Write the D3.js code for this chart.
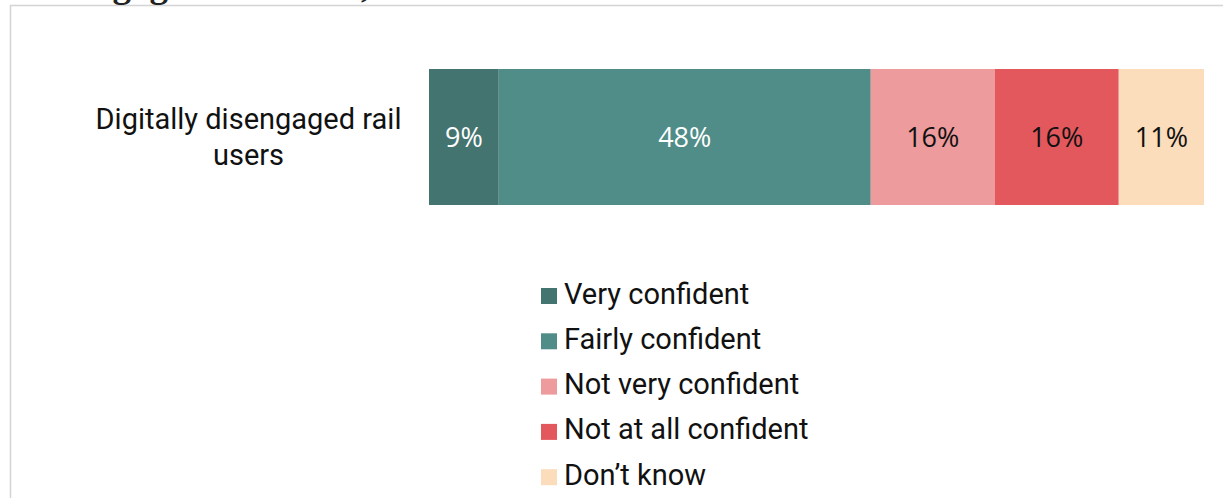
<!DOCTYPE html>
<html>
<head>
<meta charset="utf-8">
<script src="https://cdn.jsdelivr.net/npm/d3@7"></script>
<style>
  html, body { margin: 0; padding: 0; background: #fff; }
  svg { display: block; }
</style>
</head>
<body>
<svg id="chart" width="1223" height="498"></svg>
<script>
const categories = ["Digitally disengaged rail users"];
const categoryLines = [["Digitally disengaged rail", "users"]];
const seriesNames = ["Very confident", "Fairly confident", "Not very confident", "Not at all confident", "Don\u2019t know"];
const seriesValues = [[9], [48], [16], [16], [11]];
const seriesColors = ["#44746f", "#508d88", "#ed9b9c", "#e3585d", "#fbdcbb"];
const labelColors = ["#ffffff", "#ffffff", "#111111", "#111111", "#111111"];
const titleText = "Disengaged rail users,";

const svg = d3.select("#chart");

// frame
svg.append("rect")
  .attr("x", 10.5).attr("y", 5.5)
  .attr("width", 1300).attr("height", 600)
  .attr("fill", "none").attr("stroke", "#d4d4d4").attr("stroke-width", 1.5);

// clipped title (only descenders visible, as in the reference)
svg.append("text")
  .attr("x", 24).attr("y", -3)
  .attr("font-family", "Liberation Serif, serif")
  .attr("font-weight", "bold")
  .attr("font-size", 37)
  .attr("fill", "#222")
  .text(titleText);

const x = d3.scaleLinear().domain([0, 100]).range([429, 1204]);
const y = d3.scaleBand().domain(categories).range([69, 205]).padding(0);

const table = categories.map((c, i) => {
  const row = { category: c };
  seriesNames.forEach((s, j) => row[s] = seriesValues[j][i]);
  return row;
});
const stacked = d3.stack().keys(seriesNames)(table);

const g = svg.append("g");
stacked.forEach((layer, j) => {
  layer.forEach(d => {
    g.append("rect")
      .attr("x", x(d[0]))
      .attr("y", y(d.data.category))
      .attr("width", x(d[1]) - x(d[0]))
      .attr("height", y.bandwidth())
      .attr("fill", seriesColors[j]);
    g.append("text")
      .attr("x", (x(d[0]) + x(d[1])) / 2)
      .attr("y", y(d.data.category) + y.bandwidth() / 2)
      .attr("dy", "0.36em")
      .attr("text-anchor", "middle")
      .attr("font-family", "Open Sans, sans-serif")
      .attr("font-size", 27)
      .attr("fill", labelColors[j])
      .text((d[1] - d[0]) + "%");
  });
});

// category labels
categories.forEach((c, i) => {
  const t = svg.append("text")
    .attr("text-anchor", "middle")
    .attr("font-family", "Roboto, sans-serif")
    .attr("font-size", 29)
    .attr("fill", "#111");
  const lines = categoryLines[i];
  const cy = y(c) + y.bandwidth() / 2;
  lines.forEach((ln, k) => {
    t.append("tspan")
      .attr("x", 248.5)
      .attr("y", cy + 10 + (k - (lines.length - 1) / 2) * 36)
      .text(ln);
  });
});

// legend
const legend = svg.append("g").attr("transform", "translate(541,288)");
seriesNames.forEach((s, j) => {
  const row = legend.append("g").attr("transform", `translate(0,${j * 45.3})`);
  row.append("rect").attr("width", 16).attr("height", 16).attr("fill", seriesColors[j]);
  row.append("text")
    .attr("x", 23).attr("y", 15.5)
    .attr("font-family", "Roboto, sans-serif")
    .attr("font-size", 29)
    .attr("fill", "#111")
    .text(s);
});
</script>
</body>
</html>
